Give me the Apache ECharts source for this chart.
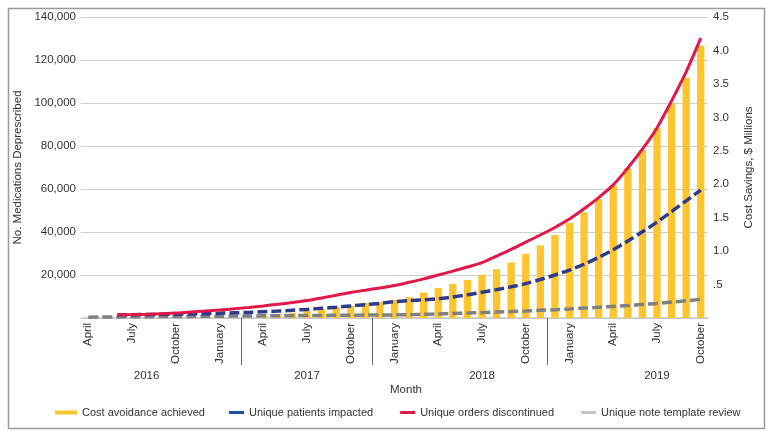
<!DOCTYPE html>
<html>
<head>
<meta charset="utf-8">
<script src="https://cdn.jsdelivr.net/npm/echarts@6/dist/echarts.min.js"></script>
<style>
html,body{margin:0;padding:0;background:#fff;}
#chart{width:770px;height:434px;}
</style>
</head>
<body>
<div id="chart"></div>
<script>
// Categories: months April 2016 .. October 2019
const months = [
  'April 2016','May 2016','June 2016','July 2016','August 2016','September 2016','October 2016','November 2016','December 2016',
  'January 2017','February 2017','March 2017','April 2017','May 2017','June 2017','July 2017','August 2017','September 2017','October 2017','November 2017','December 2017',
  'January 2018','February 2018','March 2018','April 2018','May 2018','June 2018','July 2018','August 2018','September 2018','October 2018','November 2018','December 2018',
  'January 2019','February 2019','March 2019','April 2019','May 2019','June 2019','July 2019','August 2019','September 2019','October 2019'
];

// Cost avoidance achieved ($ millions, right axis)
const costAvoidance = [
  null,null,null,null,null,null,null,null,null,
  null,null,null,0.04,0.06,0.075,0.11,0.135,0.165,0.185,0.225,0.24,
  0.27,0.31,0.38,0.45,0.51,0.57,0.645,0.73,0.83,0.96,1.085,1.24,
  1.42,1.58,1.775,1.985,2.24,2.51,2.84,3.21,3.59,4.07
];

// Unique patients impacted (left axis)
const uniquePatients = [
  null,null,1500,1550,1600,1700,1800,1900,2000,
  2200,2400,2600,2900,3200,3600,4000,4500,5000,5600,6200,6800,
  7600,8100,8500,8900,9800,10800,12000,13200,14500,16000,17900,20000,
  22300,25000,28200,31700,35800,40100,44600,49500,54500,59500
];

// Unique orders discontinued (left axis)
const uniqueOrders = [
  null,null,1500,1600,1750,2000,2300,2800,3200,
  3700,4300,4900,5600,6400,7200,8100,9300,10600,11900,12900,14000,
  15100,16600,18200,20000,21800,23700,25800,28800,31900,35300,38600,42100,
  46000,50800,56000,61900,69800,78500,88400,101000,114500,130200
];

// Unique note template review (left axis)
const noteTemplate = [
  400,450,500,550,600,650,700,750,800,
  850,900,950,1000,1050,1100,1150,1200,1250,1300,1350,1400,
  1450,1550,1700,1900,2100,2300,2500,2750,3000,3250,3550,3850,
  4200,4600,5000,5400,5800,6300,6800,7400,8000,8700
];

// Tick labels
const leftTicks = [0, 20000, 40000, 60000, 80000, 100000, 120000, 140000];
const rightTicks = ['', '.5', '1.0', '1.5', '2.0', '2.5', '3.0', '3.5', '4.0', '4.5'];
const yearLabels = ['2016', '2017', '2018', '2019'];

const seriesNames = ['Cost avoidance achieved', 'Unique patients impacted', 'Unique orders discontinued', 'Unique note template review'];

const FONT = '"Liberation Sans", Arial, Helvetica, sans-serif';
const TXT = '#333';

const chart = echarts.init(document.getElementById('chart'), null, {renderer: 'canvas'});

const yearLabelIdx = [4, 15, 27, 39];
const separatorPos = [10.5, 19.5, 31.5];

chart.setOption({
  animation: false,
  textStyle: {fontFamily: FONT},
  grid: {left: 81, right: 62, top: 17, bottom: 116, containLabel: false},
  graphic: [{
    type: 'rect', left: 6, top: 6, silent: true,
    shape: {width: 756, height: 420},
    style: {fill: 'none', stroke: '#9a9a9a', lineWidth: 1.5}
  }],
  legend: [{
    data: [seriesNames[0]],
    left: 50, top: 402, icon: 'rect', itemWidth: 22, itemHeight: 4,
    textStyle: {fontSize: 11, color: TXT, fontFamily: FONT}
  }, {
    data: [
      {name: seriesNames[1], itemStyle: {color: '#1f4e9c'}},
      {name: seriesNames[2], itemStyle: {color: '#e0194a'}},
      {name: seriesNames[3], itemStyle: {color: '#c4c4c4'}}
    ],
    left: 224, top: 402, icon: 'rect', itemWidth: 15, itemHeight: 3, itemGap: 27,
    textStyle: {fontSize: 11, color: TXT, fontFamily: FONT}
  }],
  xAxis: [{
    type: 'category',
    data: months,
    boundaryGap: true,
    axisLine: {show: true, lineStyle: {color: '#c8c8c8', width: 1.5}},
    axisTick: {show: false},
    axisLabel: {
      interval: 2, rotate: 90, margin: 5, fontSize: 11.5, color: TXT, fontFamily: FONT,
      formatter: v => v.split(' ')[0]
    },
    name: 'Month',
    nameLocation: 'middle',
    nameGap: 66,
    nameTextStyle: {fontSize: 11.5, color: TXT, fontFamily: FONT, padding: [0, 0, 0, 23]}
  }, {
    type: 'value',
    position: 'bottom',
    min: -0.5, max: months.length - 0.5,
    axisLine: {show: false},
    splitLine: {show: false},
    axisTick: {show: true, customValues: separatorPos, length: 47, lineStyle: {color: '#666', width: 1}},
    axisLabel: {
      customValues: yearLabelIdx, margin: 52, fontSize: 11.5, color: TXT, fontFamily: FONT,
      formatter: v => yearLabels[yearLabelIdx.indexOf(v)] || ''
    }
  }],
  yAxis: [{
    type: 'value',
    min: leftTicks[0], max: leftTicks[leftTicks.length - 1], interval: leftTicks[1] - leftTicks[0],
    axisLine: {show: false},
    axisTick: {show: false},
    splitLine: {lineStyle: {color: '#cfcfcf', width: 1.2}},
    axisLabel: {
      margin: 5, fontSize: 11.5, color: TXT, fontFamily: FONT,
      formatter: v => v === 0 ? '' : v.toLocaleString('en-US')
    },
    name: 'No. Medications Deprescribed',
    nameLocation: 'middle',
    nameGap: 45,
    nameTextStyle: {fontSize: 11.5, color: TXT, fontFamily: FONT}
  }, {
    type: 'value',
    min: 0, max: 4.5, interval: 0.5,
    position: 'right',
    axisLine: {show: false},
    axisTick: {show: false},
    splitLine: {show: false},
    axisLabel: {
      margin: 5, fontSize: 11.5, color: TXT, fontFamily: FONT,
      formatter: v => rightTicks[Math.round(v / 0.5)]
    },
    name: 'Cost Savings, $ Millions',
    nameLocation: 'middle',
    nameGap: 35,
    nameTextStyle: {fontSize: 11.5, color: TXT, fontFamily: FONT}
  }],
  series: [{
    name: seriesNames[0],
    type: 'bar',
    xAxisIndex: 0, yAxisIndex: 1,
    data: costAvoidance,
    barWidth: '50%',
    itemStyle: {color: '#ffc52e'}
  }, {
    name: seriesNames[3],
    type: 'line',
    xAxisIndex: 0, yAxisIndex: 0,
    data: noteTemplate,
    symbol: 'none', smooth: 0.3,
    lineStyle: {color: '#808080', width: 3.5, type: [10, 4]},
    itemStyle: {color: '#808080'}
  }, {
    name: seriesNames[1],
    type: 'line',
    xAxisIndex: 0, yAxisIndex: 0,
    data: uniquePatients,
    symbol: 'none', smooth: 0.3,
    lineStyle: {color: '#2e3a8c', width: 3.5, type: [10, 4]},
    itemStyle: {color: '#2e3a8c'}
  }, {
    name: seriesNames[2],
    type: 'line',
    xAxisIndex: 0, yAxisIndex: 0,
    data: uniqueOrders,
    symbol: 'none', smooth: 0.3,
    lineStyle: {color: '#e0194a', width: 3},
    itemStyle: {color: '#e0194a'}
  }]
});
</script>
</body>
</html>
